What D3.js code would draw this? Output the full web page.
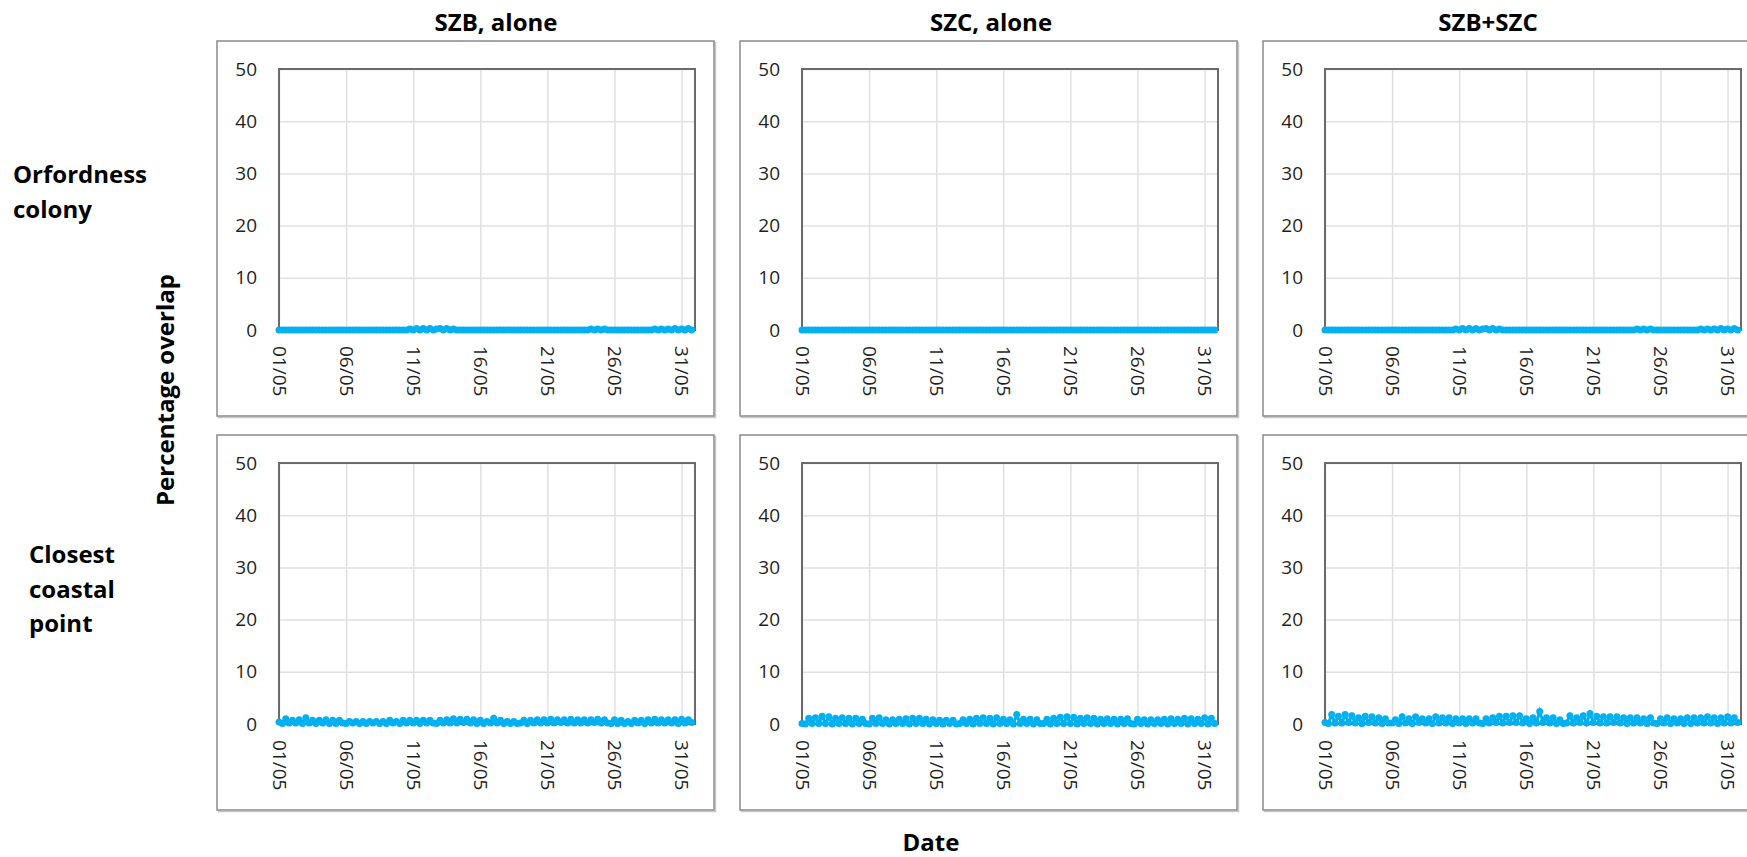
<!DOCTYPE html>
<html>
<head>
<meta charset="utf-8">
<script src="https://cdn.jsdelivr.net/npm/d3@7"></script>
<style>
  body { margin: 0; background: #fff; }
  text { font-family: "Open Sans", sans-serif; }
</style>
</head>
<body>
<svg id="chart" width="1747" height="857"></svg>
<script>
// column titles and row labels of the 2x3 grid
const colTitles = ["SZB, alone", "SZC, alone", "SZB+SZC"];
const rowLabels = [["Orfordness", "colony"], ["Closest", "coastal", "point"]];
const yTicks = [0, 10, 20, 30, 40, 50];
const xTickDays = [1, 6, 11, 16, 21, 26, 31];
const stepHours = 6; // one value every 6 hours, 4 per day, from 01/05 00:00

// percentage overlap, one row per day (00h, 06h, 12h, 18h)
const szbColony = [
  0, 0, 0, 0,  0, 0, 0, 0,  0, 0, 0, 0,  0, 0, 0, 0,  0, 0, 0, 0,
  0, 0, 0, 0,  0, 0, 0, 0,  0, 0, 0, 0,  0, 0, 0, 0,  0, 0, 0, 0.2,
  0, 0.3, 0, 0.3,  0, 0.3, 0, 0.2,  0.3, 0, 0.3, 0,  0.2, 0, 0, 0,  0, 0, 0, 0,
  0, 0, 0, 0,  0, 0, 0, 0,  0, 0, 0, 0,  0, 0, 0, 0,  0, 0, 0, 0,
  0, 0, 0, 0,  0, 0, 0, 0,  0, 0, 0, 0,  0, 0.2, 0, 0.2,  0, 0.2, 0, 0,
  0, 0, 0, 0,  0, 0, 0, 0,  0, 0, 0, 0,  0.2, 0, 0.2, 0,  0.2, 0, 0.3, 0,
  0.2, 0, 0.3, 0
];
const szcColony = [
  0, 0, 0, 0,  0, 0, 0, 0,  0, 0, 0, 0,  0, 0, 0, 0,  0, 0, 0, 0,
  0, 0, 0, 0,  0, 0, 0, 0,  0, 0, 0, 0,  0, 0, 0, 0,  0, 0, 0, 0,
  0, 0, 0, 0,  0, 0, 0, 0,  0, 0, 0, 0,  0, 0, 0, 0,  0, 0, 0, 0,
  0, 0, 0, 0,  0, 0, 0, 0,  0, 0, 0, 0,  0, 0, 0, 0,  0, 0, 0, 0,
  0, 0, 0, 0,  0, 0, 0, 0,  0, 0, 0, 0,  0, 0, 0, 0,  0, 0, 0, 0,
  0, 0, 0, 0,  0, 0, 0, 0,  0, 0, 0, 0,  0, 0, 0, 0,  0, 0, 0, 0,
  0, 0, 0, 0
];
const bothColony = [
  0, 0, 0, 0,  0, 0, 0, 0,  0, 0, 0, 0,  0, 0, 0, 0,  0, 0, 0, 0,
  0, 0, 0, 0,  0, 0, 0, 0,  0, 0, 0, 0,  0, 0, 0, 0,  0, 0, 0, 0.2,
  0, 0.3, 0, 0.3,  0, 0.3, 0, 0.2,  0.3, 0, 0.3, 0,  0.2, 0, 0, 0,  0, 0, 0, 0,
  0, 0, 0, 0,  0, 0, 0, 0,  0, 0, 0, 0,  0, 0, 0, 0,  0, 0, 0, 0,
  0, 0, 0, 0,  0, 0, 0, 0,  0, 0, 0, 0,  0, 0.2, 0, 0.2,  0, 0.2, 0, 0,
  0, 0, 0, 0,  0, 0, 0, 0,  0, 0, 0, 0,  0.2, 0, 0.2, 0,  0.2, 0, 0.3, 0,
  0.2, 0, 0.3, 0
];
const szbCoast = [
  0.4, 0.1, 1.0, 0.2,  0.7, 0.2, 0.8, 0.1,  1.2, 0.2, 0.7, 0.1,  0.7, 0.2, 0.8, 0.1,
  0.7, 0.1, 0.7, 0.2,  0.1, 0.5, 0.2, 0.5,  0.1, 0.5, 0.1, 0.5,  0.2, 0.5, 0.1, 0.5,
  0.1, 0.7, 0.2, 0.5,  0.1, 0.7, 0.2, 0.7,  0.2, 0.7, 0.1, 0.7,  0.2, 0.7, 0.2, 0.1,
  0.7, 0.2, 0.8, 0.2,  1.0, 0.2, 0.9, 0.3,  0.9, 0.2, 0.8, 0.1,  0.7, 0.1, 0.5, 0.2,
  1.1, 0.2, 0.7, 0.1,  0.5, 0.1, 0.5, 0.1,  0.2, 0.7, 0.1, 0.7,  0.2, 0.8, 0.2, 0.8,
  0.2, 0.9, 0.2, 0.8,  0.3, 0.8, 0.2, 0.9,  0.2, 0.8, 0.2, 0.8,  0.2, 0.8, 0.3, 0.9,
  0.2, 0.8, 0.2, 0.1,  0.8, 0.1, 0.7, 0.1,  0.5, 0.1, 0.7, 0.2,  0.7, 0.1, 0.8, 0.2,
  0.9, 0.2, 0.8, 0.2,  0.8, 0.2, 0.8, 0.1,  0.9, 0.2, 0.8, 0.3
];
const szcCoast = [
  0.1, 0.0, 1.1, 0.1,  1.2, 0.1, 1.5, 0.1,  1.4, 0.0, 1.1, 0.1,  1.2, 0.1, 1.1, 0.0,
  1.1, 0.1, 0.9, 0.1,  0.0, 1.1, 0.1, 1.2,  0.1, 0.8, 0.0, 0.8,  0.1, 0.9, 0.1, 1.0,
  0.0, 1.1, 0.1, 1.1,  0.1, 0.9, 0.0, 0.8,  0.1, 0.7, 0.0, 0.7,  0.1, 0.7, 0.0, 0.1,
  0.8, 0.1, 0.9, 0.0,  1.1, 0.1, 1.2, 0.1,  1.1, 0.0, 1.2, 0.1,  0.9, 0.1, 0.8, 0.0,
  1.8, 0.1, 0.9, 0.1,  0.9, 0.0, 0.8, 0.1,  0.1, 0.9, 0.0, 1.1,  0.1, 1.3, 0.1, 1.4,
  0.1, 1.3, 0.0, 1.1,  0.1, 1.2, 0.1, 1.1,  0.0, 0.9, 0.1, 1.0,  0.1, 0.9, 0.0, 0.9,
  0.1, 1.0, 0.1, 0.0,  0.9, 0.1, 0.8, 0.0,  0.8, 0.1, 0.8, 0.1,  0.9, 0.0, 1.0, 0.1,
  0.9, 0.1, 1.1, 0.0,  1.0, 0.1, 0.9, 0.1,  1.2, 0.0, 1.1, 0.1
];
const bothCoast = [
  0.3, 0.1, 1.8, 0.2,  1.5, 0.2, 1.8, 0.3,  1.6, 0.2, 1.2, 0.1,  1.5, 0.3, 1.4, 0.2,
  1.2, 0.1, 1.0, 0.2,  0.2, 0.8, 0.1, 1.4,  0.2, 1.0, 0.1, 1.4,  0.3, 1.0, 0.2, 1.0,
  0.1, 1.4, 0.2, 1.2,  0.2, 1.2, 0.1, 1.0,  0.2, 1.0, 0.1, 1.0,  0.2, 1.0, 0.2, 0.1,
  1.0, 0.2, 1.2, 0.3,  1.5, 0.2, 1.5, 0.3,  1.6, 0.3, 1.6, 0.2,  1.0, 0.1, 1.2, 0.2,
  2.4, 0.3, 1.2, 0.2,  1.2, 0.1, 0.8, 0.1,  0.2, 1.6, 0.2, 1.2,  0.3, 1.6, 0.2, 2.0,
  0.3, 1.5, 0.2, 1.4,  0.2, 1.4, 0.3, 1.4,  0.2, 1.2, 0.1, 1.2,  0.2, 1.2, 0.2, 1.0,
  0.1, 1.2, 0.2, 0.1,  1.0, 0.2, 1.2, 0.1,  1.0, 0.2, 1.0, 0.1,  1.2, 0.1, 1.2, 0.2,
  1.2, 0.2, 1.4, 0.2,  1.2, 0.1, 1.2, 0.2,  1.4, 0.2, 1.2, 0.3
];
const panelSeries = [[szbColony, szcColony, bothColony], [szbCoast, szcCoast, bothCoast]];

const svg = d3.select("#chart");

// panel geometry
const panelLeft = [217, 740, 1263];
const panelTop = [41, 435];
const panelW = 497, panelH = 375;
const plotOffX = 62, plotOffY = 28;
const plotW = 416, plotH = 261;
const titleX = [496, 991, 1488];

const start = new Date(Date.UTC(2021, 4, 1));
const end = new Date(Date.UTC(2021, 5, 1));
const x = d3.scaleUtc().domain([start, end]).range([0, plotW]);
const y = d3.scaleLinear().domain([0, 50]).range([plotH, 0]);
const xTicks = xTickDays.map(d => new Date(Date.UTC(2021, 4, d)));
const fmt = d3.utcFormat("%d/%m");

// column titles
svg.selectAll(".colTitle")
  .data(colTitles)
  .enter()
  .append("text")
  .attr("class", "colTitle")
  .attr("x", (d, i) => titleX[i])
  .attr("y", 31)
  .attr("text-anchor", "middle")
  .attr("font-size", 24)
  .attr("font-weight", 700)
  .attr("fill", "#000")
  .text(d => d);

// row labels
const rowLabelPos = [{x: 13, y: 183}, {x: 29, y: 563}];
rowLabels.forEach((lines, r) => {
  let t = svg.append("text")
    .attr("x", rowLabelPos[r].x)
    .attr("y", rowLabelPos[r].y)
    .attr("font-size", 24)
    .attr("font-weight", 700)
    .attr("fill", "#000");
  lines.forEach((l, k) => {
    t.append("tspan")
      .attr("x", rowLabelPos[r].x)
      .attr("dy", k === 0 ? 0 : 34.5)
      .text(l);
  });
});

svg.append("text")
  .attr("transform", "translate(174,390) rotate(-90)")
  .attr("text-anchor", "middle")
  .attr("font-size", 24)
  .attr("font-weight", 700)
  .text("Percentage overlap");

svg.append("text")
  .attr("x", 931)
  .attr("y", 851)
  .attr("text-anchor", "middle")
  .attr("font-size", 24)
  .attr("font-weight", 700)
  .text("Date");

function drawPanel(r, c) {
  let values = panelSeries[r][c];
  let points = values.map((v, i) => ({t: d3.utcHour.offset(start, i * stepHours), v: v}));

  let px = panelLeft[c], py = panelTop[r];

  // outer frame with a soft shadow
  svg.append("rect")
    .attr("x", px + 1.5).attr("y", py + 1.5)
    .attr("width", panelW).attr("height", panelH)
    .attr("fill", "none").attr("stroke", "#c8c8c8").attr("stroke-width", 1.5);
  svg.append("rect")
    .attr("x", px).attr("y", py)
    .attr("width", panelW).attr("height", panelH)
    .attr("fill", "#fff").attr("stroke", "#8a8a8a").attr("stroke-width", 1.5);

  let g = svg.append("g").attr("transform", `translate(${px + plotOffX},${py + plotOffY})`);

  // grid
  g.append("g")
    .attr("class", "ygrid")
    .call(d3.axisLeft(y).tickValues(yTicks).tickSize(-plotW).tickFormat(""))
    .call(s => s.select(".domain").remove())
    .selectAll("line").attr("stroke", "#e0e0e0").attr("stroke-width", 1.5);
  g.append("g")
    .attr("class", "xgrid")
    .attr("transform", `translate(0,${plotH})`)
    .call(d3.axisBottom(x).tickValues(xTicks).tickSize(-plotH).tickFormat(""))
    .call(s => s.select(".domain").remove())
    .selectAll("line").attr("stroke", "#e0e0e0").attr("stroke-width", 1.5);

  g.append("rect")
    .attr("width", plotW).attr("height", plotH)
    .attr("fill", "none").attr("stroke", "#6a6a6a").attr("stroke-width", 2);

  // tick labels
  g.append("g")
    .call(d3.axisLeft(y).tickValues(yTicks).tickSize(0).tickPadding(22))
    .call(s => s.select(".domain").remove())
    .selectAll("text")
    .attr("font-size", 19)
    .attr("font-family", "Open Sans, sans-serif")
    .attr("fill", "#1f1f1f");

  g.append("g")
    .attr("transform", `translate(0,${plotH})`)
    .call(d3.axisBottom(x).tickValues(xTicks).tickSize(0).tickFormat(fmt))
    .call(s => s.select(".domain").remove())
    .selectAll("text")
    .attr("font-size", 19)
    .attr("font-family", "Open Sans, sans-serif")
    .attr("fill", "#1f1f1f")
    .attr("text-anchor", "start")
    .attr("y", 0)
    .attr("dy", "0.35em")
    .attr("transform", "translate(0,16) rotate(90)");

  // series
  let line = d3.line().x(d => x(d.t)).y(d => y(d.v));
  g.append("path")
    .datum(points)
    .attr("d", line)
    .attr("fill", "none")
    .attr("stroke", "#00b0f0")
    .attr("stroke-width", 3);
  g.selectAll("circle")
    .data(points)
    .enter()
    .append("circle")
    .attr("cx", d => x(d.t))
    .attr("cy", d => y(d.v))
    .attr("r", 3.5)
    .attr("fill", "#00b0f0");
}

for (let r = 0; r < 2; r++) {
  for (let c = 0; c < 3; c++) {
    drawPanel(r, c);
  }
}
</script>
</body>
</html>
